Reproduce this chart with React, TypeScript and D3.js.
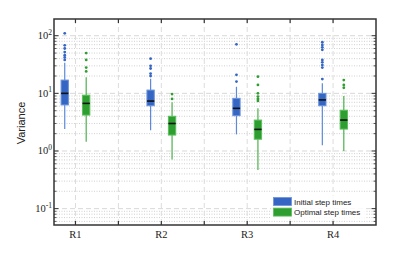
import React from 'react';
import * as d3 from 'd3';

// values
const regions = ['R1', 'R2', 'R3', 'R4'];
// [lower whisker, q1, median, q3, upper whisker]
const initialStats = [
  [2.4, 6.3, 10, 17, 34],
  [2.3, 6.1, 7.35, 11.4, 18],
  [1.94, 4.1, 5.5, 8.2, 13],
  [1.26, 6.1, 7.7, 10, 15],
];
const optimalStats = [
  [1.45, 4.2, 6.7, 9.3, 19],
  [0.71, 1.89, 3.0, 4.0, 7],
  [0.47, 1.6, 2.37, 3.44, 5.5],
  [1.0, 2.4, 3.44, 5.1, 9],
];
const initialOutliers = [
  [110, 68, 60, 52, 46, 42, 38],
  [40, 30, 27, 22, 20],
  [71, 21, 16],
  [77, 69, 63, 57, 38, 34.5, 31, 28, 17.7],
];
const optimalOutliers = [
  [50, 38, 28, 24],
  [9.7, 8],
  [19.5, 14, 10, 8.8, 8, 7.4],
  [17, 14, 12.5],
];
const yMajorTicks = [0.1, 1, 10, 100];
const xTicks = [1, 2, 3, 4, 5, 6, 7];
const seriesNames = ['Initial step times', 'Optimal step times'];

const W = 415;
const H = 253;
const left = 54, right = 376, top = 19, bottom = 225;

const blue = { fill: '#3566c4', edge: '#6b93db', whisker: '#5d89d8' };
const green = { fill: '#2f9e31', edge: '#5bbf5b', whisker: '#4cb14c' };

const App = () => {
  const x = d3.scaleLinear().domain([0.5, 8]).range([left, right]);
  const y = d3.scaleLog().domain([0.052, 195]).range([bottom, top]);

  const minorTicks: number[] = [];
  for (let e = -2; e <= 2; e++) {
    for (let k = 2; k <= 9; k++) {
      const v = k * Math.pow(10, e);
      if (v > y.domain()[0] && v < y.domain()[1]) minorTicks.push(v);
    }
  }

  const boxW = x(0.17) - x(0);

  const drawBox = (stats: number[], outliers: number[], cx: number, c: typeof blue, key: string) => {
    const [lo, q1, med, q3, hi] = stats;
    return (
      <g key={key}>
        <line x1={cx} x2={cx} y1={y(lo)} y2={y(q1)} stroke={c.whisker} strokeWidth={1.2} />
        <line x1={cx} x2={cx} y1={y(q3)} y2={y(hi)} stroke={c.whisker} strokeWidth={1.2} />
        <rect x={cx - boxW / 2} y={y(q3)} width={boxW} height={y(q1) - y(q3)}
          fill={c.fill} stroke={c.edge} strokeWidth={1} />
        <line x1={cx - boxW / 2} x2={cx + boxW / 2} y1={y(med)} y2={y(med)} stroke="#111" strokeWidth={1.6} />
        {outliers.map((o, i) => (
          <circle key={i} cx={cx} cy={y(o)} r={1.4} fill={c.fill} />
        ))}
      </g>
    );
  };

  const serif = '"Liberation Serif", "DejaVu Serif", serif';
  const sans = '"Liberation Sans", Arial, sans-serif';
  const frame = '#333';

  return (
    <svg width={W} height={H} style={{ position: 'absolute', left: 0, top: 0, background: '#fff' }}>
      {/* grid */}
      {minorTicks.map((t) => (
        <line key={'mg' + t} x1={left} x2={right} y1={y(t)} y2={y(t)} stroke="#c4c4c4" strokeWidth={0.8} strokeDasharray="1,1.5" />
      ))}
      {yMajorTicks.map((t) => (
        <line key={'Mg' + t} x1={left} x2={right} y1={y(t)} y2={y(t)} stroke="#d8d8d8" strokeWidth={1} strokeDasharray="5,3" />
      ))}
      {xTicks.map((t) => (
        <line key={'xg' + t} x1={x(t)} x2={x(t)} y1={top} y2={bottom} stroke="#dcdcdc" strokeWidth={1} strokeDasharray="5,3" />
      ))}

      {/* boxes */}
      {regions.map((r, i) => {
        const c = 1 + 2 * i;
        return (
          <g key={r}>
            {drawBox(initialStats[i], initialOutliers[i], x(c - 0.25), blue, 'b')}
            {drawBox(optimalStats[i], optimalOutliers[i], x(c + 0.25), green, 'g')}
          </g>
        );
      })}

      {/* ticks on all sides, pointing inward */}
      {yMajorTicks.map((t) => (
        <g key={'yt' + t}>
          <line x1={left} x2={left + 4.5} y1={y(t)} y2={y(t)} stroke={frame} strokeWidth={1} />
          <line x1={right} x2={right - 4.5} y1={y(t)} y2={y(t)} stroke={frame} strokeWidth={1} />
          <text x={left - 2} y={y(t) + 3.5} textAnchor="end" fontFamily={serif} fontSize={10.5} fill="#222">
            10<tspan dy={-4.5} fontSize={7.5}>{Math.round(Math.log10(t))}</tspan>
          </text>
        </g>
      ))}
      {minorTicks.map((t) => (
        <g key={'ymt' + t}>
          <line x1={left} x2={left + 2.5} y1={y(t)} y2={y(t)} stroke={frame} strokeWidth={0.8} />
          <line x1={right} x2={right - 2.5} y1={y(t)} y2={y(t)} stroke={frame} strokeWidth={0.8} />
        </g>
      ))}
      {xTicks.map((t) => (
        <g key={'xt' + t}>
          <line x1={x(t)} x2={x(t)} y1={top} y2={top + 4} stroke={frame} strokeWidth={1.2} />
          <line x1={x(t)} x2={x(t)} y1={bottom} y2={bottom - 4} stroke={frame} strokeWidth={1.2} />
        </g>
      ))}
      {regions.map((r, i) => (
        <text key={'xl' + r} x={x(1 + 2 * i)} y={238} textAnchor="middle" fontFamily={serif} fontSize={10.5} fill="#222">
          {r}
        </text>
      ))}

      {/* legend */}
      <rect x={271} y={195.5} width={94} height={23} fill="#fff" opacity={0.85} />
      {seriesNames.map((n, i) => (
        <g key={n}>
          <rect x={273.5} y={197.5 + i * 10.6} width={18} height={8} fill={i === 0 ? blue.fill : green.fill}
            stroke={i === 0 ? blue.edge : green.edge} strokeWidth={0.8} />
          <text x={294} y={204.5 + i * 10.6} fontFamily={sans} fontSize={8} fill="#222">{n}</text>
        </g>
      ))}

      {/* frame */}
      <rect x={left} y={top} width={right - left} height={bottom - top} fill="none" stroke={frame} strokeWidth={1.5} />

      <text transform={`translate(25,${(top + bottom) / 2 + 1}) rotate(-90)`} textAnchor="middle" fontFamily={sans} fontSize={11} fill="#222">
        Variance
      </text>
    </svg>
  );
};

export default App;
